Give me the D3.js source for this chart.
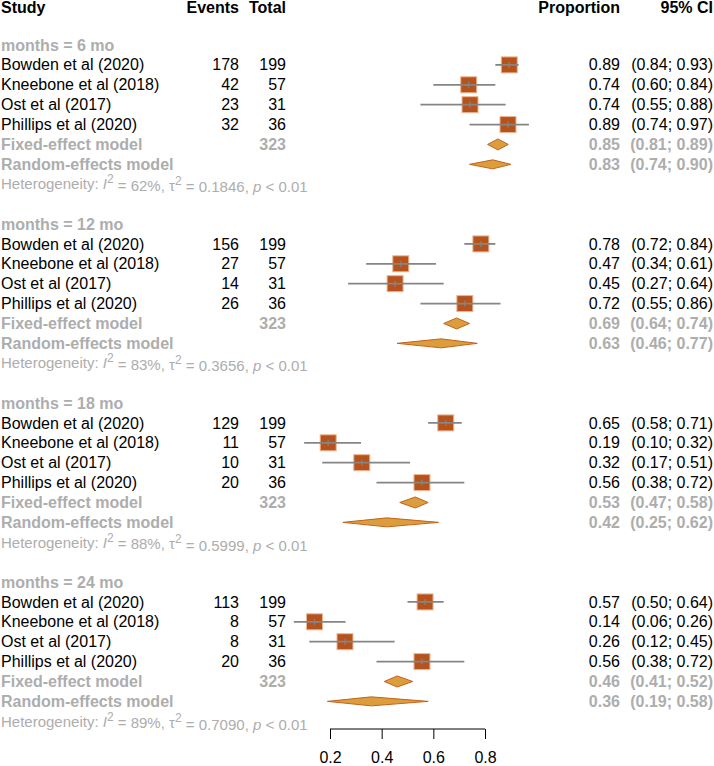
<!DOCTYPE html>
<html><head><meta charset="utf-8">
<script src="https://cdn.jsdelivr.net/npm/d3@7"></script>
<style>body{margin:0;background:#fff}svg{display:block}text{font-family:"Liberation Sans",Arial,sans-serif}</style>
</head><body>
<script>
// ---- data ----
const groups = ["months = 6 mo", "months = 12 mo", "months = 18 mo", "months = 24 mo"];
const studies = ["Bowden et al (2020)", "Kneebone et al (2018)", "Ost et al (2017)", "Phillips et al (2020)"];
const events = [[178, 42, 23, 32], [156, 27, 14, 26], [129, 11, 10, 20], [113, 8, 8, 20]];
const totals = [199, 57, 31, 36];
const props = [[0.894, 0.737, 0.742, 0.889], [0.784, 0.474, 0.452, 0.722], [0.648, 0.193, 0.323, 0.556], [0.568, 0.140, 0.258, 0.556]];
const lower = [[0.84, 0.60, 0.55, 0.74], [0.72, 0.34, 0.27, 0.55], [0.58, 0.10, 0.17, 0.38], [0.50, 0.06, 0.12, 0.38]];
const upper = [[0.93, 0.84, 0.88, 0.97], [0.84, 0.61, 0.64, 0.86], [0.71, 0.32, 0.51, 0.72], [0.64, 0.26, 0.45, 0.72]];
const fixedEst = [0.85, 0.69, 0.53, 0.46];
const fixedLo = [0.81, 0.64, 0.47, 0.41];
const fixedHi = [0.89, 0.74, 0.58, 0.52];
const randEst = [0.83, 0.63, 0.42, 0.36];
const randLo = [0.74, 0.46, 0.25, 0.19];
const randHi = [0.90, 0.77, 0.62, 0.58];
const totalN = 323;
const i2 = ["62%", "83%", "88%", "89%"];
const tau2 = ["0.1846", "0.3656", "0.5999", "0.7090"];
const pval = ["< 0.01", "< 0.01", "< 0.01", "< 0.01"];
const xTicks = [0.2, 0.4, 0.6, 0.8];

// ---- layout ----
const W = 714, H = 766;
const gray = "#ADADAD";
const fs = 16;
const rowH = 19.89;
const y0 = 45;
const rowY = i => y0 + i * rowH;
const xCol = {study: 1, events: 239, total: 286, prop: 620, ci: 713};
const x = d3.scaleLinear().domain([0.2, 0.8]).range([330, 485]);
const f2 = d3.format(".2f");

const svg = d3.select("body").append("svg").attr("width", W).attr("height", H);

function txt(xp, yp, s, opt = {}) {
  return svg.append("text").attr("x", xp).attr("y", yp).attr("dy", "0.35em")
    .attr("font-size", opt.size || fs)
    .attr("font-weight", opt.bold ? "bold" : "normal")
    .attr("fill", opt.color || "#000")
    .attr("text-anchor", opt.anchor || "start")
    .text(s);
}

// header
const hy = 7.6;
txt(xCol.study, hy, "Study", {bold: true});
txt(xCol.events, hy, "Events", {bold: true, anchor: "end"});
txt(xCol.total, hy, "Total", {bold: true, anchor: "end"});
txt(xCol.prop, hy, "Proportion", {bold: true, anchor: "end"});
txt(xCol.ci, hy, "95% CI", {bold: true, anchor: "end"});

const ciStr = (l, u) => "(" + f2(l) + "; " + f2(u) + ")";

groups.forEach((g, gi) => {
  const base = gi * 9;
  txt(xCol.study, rowY(base), g, {bold: true, color: gray});
  studies.forEach((s, si) => {
    const yy = rowY(base + 1 + si);
    txt(xCol.study, yy, s);
    txt(xCol.events, yy, events[gi][si], {anchor: "end"});
    txt(xCol.total, yy, totals[si], {anchor: "end"});
    txt(xCol.prop, yy, f2(props[gi][si]), {anchor: "end"});
    txt(xCol.ci, yy, ciStr(lower[gi][si], upper[gi][si]), {anchor: "end"});
    const sz = 16;
    const cx = x(props[gi][si]);
    svg.append("rect").attr("x", cx - sz / 2).attr("y", yy - sz / 2).attr("width", sz).attr("height", sz)
      .attr("fill", "#B6531D").attr("stroke", "#EDB593").attr("stroke-width", 1);
    svg.append("line").attr("x1", x(lower[gi][si])).attr("x2", x(upper[gi][si])).attr("y1", yy).attr("y2", yy)
      .attr("stroke", "#858585").attr("stroke-width", 1.8);
    svg.append("line").attr("x1", cx).attr("x2", cx).attr("y1", yy - 3).attr("y2", yy + 3)
      .attr("stroke", "#858585").attr("stroke-width", 1.2);
  });
  // fixed
  const yf = rowY(base + 5);
  txt(xCol.study, yf, "Fixed-effect model", {bold: true, color: gray});
  txt(xCol.total, yf, totalN, {bold: true, color: gray, anchor: "end"});
  txt(xCol.prop, yf, f2(fixedEst[gi]), {bold: true, color: gray, anchor: "end"});
  txt(xCol.ci, yf, ciStr(fixedLo[gi], fixedHi[gi]), {bold: true, color: gray, anchor: "end"});
  // random
  const yr = rowY(base + 6);
  txt(xCol.study, yr, "Random-effects model", {bold: true, color: gray});
  txt(xCol.prop, yr, f2(randEst[gi]), {bold: true, color: gray, anchor: "end"});
  txt(xCol.ci, yr, ciStr(randLo[gi], randHi[gi]), {bold: true, color: gray, anchor: "end"});
  const diamond = (est, lo, hi, yy, hh) =>
    svg.append("path")
      .attr("d", `M${x(lo)},${yy} L${x(est)},${yy - hh} L${x(hi)},${yy} L${x(est)},${yy + hh} Z`)
      .attr("fill", "#DC9E3C").attr("stroke", "#C4621C").attr("stroke-width", 1);
  diamond(fixedEst[gi], fixedLo[gi], fixedHi[gi], yf, 5.5);
  diamond(randEst[gi], randLo[gi], randHi[gi], yr, 4.5);
  // heterogeneity
  const yh = rowY(base + 7);
  const t = svg.append("text").attr("x", xCol.study).attr("y", yh).attr("dy", "0.35em")
    .attr("font-size", 15).attr("fill", gray);
  t.append("tspan").text("Heterogeneity: ");
  t.append("tspan").attr("font-style", "italic").text("I");
  t.append("tspan").attr("font-size", 12).attr("dy", "-0.5em").text("2");
  t.append("tspan").attr("dy", "0.5em").text(" = " + i2[gi] + ", τ");
  t.append("tspan").attr("font-size", 12).attr("dy", "-0.5em").text("2");
  t.append("tspan").attr("dy", "0.5em").text(" = " + tau2[gi] + ", ");
  t.append("tspan").attr("font-style", "italic").text("p");
  t.append("tspan").text(" " + pval[gi]);
});

// axis
const ay = 729;
const axis = d3.axisBottom(x).tickValues(xTicks).tickFormat(d3.format(".1f")).tickSize(10).tickPadding(12.5);
const ag = svg.append("g").attr("transform", `translate(0,${ay})`).call(axis);
ag.select(".domain").attr("d", `M${x(0.2)},0H${x(0.8)}`).attr("stroke", "#000");
ag.selectAll(".tick line").attr("stroke", "#000");
ag.selectAll(".tick text").attr("font-size", fs).attr("fill", "#000")
  .attr("font-family", '"Liberation Sans",Arial,sans-serif');
</script>
</body></html>
